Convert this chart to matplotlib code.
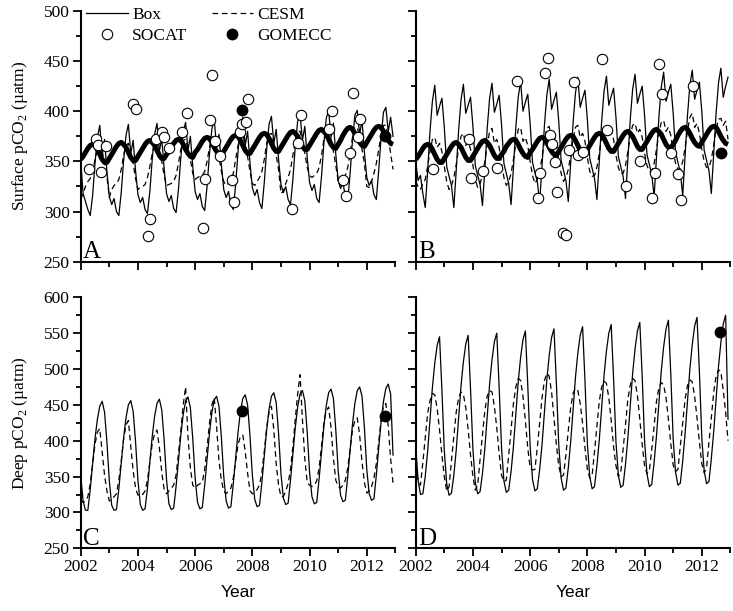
import numpy as np
import matplotlib
matplotlib.use("Agg")
import matplotlib.pyplot as plt
from matplotlib.ticker import MultipleLocator

plt.rcParams['font.family'] = ['Liberation Serif', 'DejaVu Serif']
plt.rcParams['mathtext.fontset'] = 'custom'
plt.rcParams['mathtext.rm'] = 'Liberation Serif'

# ---------------- data (monthly, Jan 2002 - Dec 2012) ----------------
years = list(range(2002, 2013))

# Panel A: surface, site A
surf_box_A = [
    [351, 318, 310, 302, 296, 316, 348, 374, 386, 356, 372, 340],
    [315, 307, 313, 300, 296, 319, 351, 376, 387, 358, 371, 341],
    [317, 309, 314, 302, 298, 320, 352, 377, 388, 360, 373, 343],
    [318, 310, 316, 303, 299, 322, 354, 379, 389, 361, 375, 345],
    [320, 312, 318, 305, 301, 325, 357, 382, 392, 364, 377, 347],
    [322, 314, 320, 307, 302, 327, 360, 385, 394, 366, 380, 349],
    [324, 316, 322, 309, 303, 329, 362, 387, 395, 368, 382, 352],
    [327, 319, 325, 312, 307, 332, 365, 390, 397, 371, 385, 354],
    [329, 321, 327, 313, 309, 335, 368, 393, 401, 374, 388, 357],
    [331, 323, 329, 315, 310, 338, 371, 396, 401, 377, 391, 359],
    [334, 326, 331, 317, 312, 341, 374, 399, 404, 380, 394, 375],
]
surf_cesm_A = [
    [312, 318, 325, 330, 333, 340, 352, 362, 367, 360, 350, 335],
    [314, 322, 326, 328, 332, 342, 356, 366, 368, 358, 348, 333],
    [322, 324, 325, 327, 334, 345, 358, 368, 370, 360, 350, 336],
    [326, 327, 328, 330, 336, 348, 362, 371, 372, 363, 352, 338],
    [332, 334, 335, 336, 340, 350, 364, 374, 375, 365, 354, 340],
    [330, 326, 328, 332, 338, 352, 366, 376, 377, 366, 355, 340],
    [328, 326, 330, 334, 340, 352, 368, 377, 378, 368, 356, 342],
    [318, 320, 328, 334, 342, 356, 370, 380, 380, 370, 358, 344],
    [336, 334, 336, 338, 344, 356, 372, 382, 382, 372, 360, 346],
    [330, 326, 330, 336, 344, 358, 374, 384, 384, 374, 362, 348],
    [325, 324, 330, 338, 348, 362, 376, 386, 386, 374, 358, 342],
]
# Atmospheric-equilibrium curve (thick line, same in A and B)
surf_atm = [
    [352, 355, 359, 363, 366, 367, 366, 362, 357, 352, 349, 349],
    [353, 357, 361, 365, 368, 369, 367, 364, 359, 354, 351, 351],
    [355, 359, 363, 367, 370, 371, 369, 366, 361, 356, 353, 353],
    [357, 360, 365, 368, 371, 372, 371, 367, 362, 358, 355, 354],
    [359, 362, 366, 370, 373, 374, 373, 369, 364, 360, 357, 356],
    [360, 364, 368, 372, 375, 376, 375, 371, 366, 361, 358, 358],
    [362, 366, 370, 374, 377, 378, 377, 373, 368, 363, 360, 360],
    [364, 368, 372, 376, 379, 380, 378, 375, 370, 365, 362, 362],
    [366, 370, 374, 378, 381, 382, 380, 377, 372, 367, 364, 363],
    [367, 371, 376, 380, 383, 384, 382, 378, 373, 369, 366, 365],
    [369, 373, 377, 381, 384, 385, 384, 380, 375, 371, 368, 367],
]
# Panel B: surface, site B
surf_box_B = [
    [350, 331, 336, 318, 304, 340, 380, 410, 426, 396, 405, 413],
    [384, 345, 335, 326, 304, 341, 381, 411, 427, 398, 406, 414],
    [385, 346, 336, 327, 306, 342, 383, 413, 428, 399, 407, 416],
    [387, 348, 338, 328, 307, 344, 384, 414, 430, 400, 409, 417],
    [388, 349, 339, 330, 309, 346, 386, 416, 432, 402, 411, 419],
    [390, 351, 341, 331, 310, 348, 388, 418, 434, 404, 413, 421],
    [392, 353, 343, 333, 312, 350, 390, 420, 435, 406, 415, 423],
    [394, 355, 345, 335, 313, 352, 392, 422, 437, 408, 417, 425],
    [396, 357, 347, 337, 315, 354, 394, 424, 439, 410, 419, 427],
    [398, 359, 349, 339, 316, 356, 396, 426, 441, 412, 421, 429],
    [400, 361, 351, 341, 318, 358, 398, 428, 443, 414, 425, 434],
]
surf_cesm_B = [
    [330, 325, 322, 328, 332, 345, 360, 372, 374, 364, 368, 360],
    [345, 330, 322, 326, 334, 347, 363, 375, 378, 366, 370, 362],
    [346, 332, 324, 328, 336, 350, 366, 380, 383, 368, 372, 364],
    [348, 334, 326, 330, 338, 352, 368, 382, 384, 370, 374, 366],
    [350, 336, 328, 332, 340, 354, 370, 383, 385, 372, 376, 368],
    [352, 338, 330, 334, 342, 356, 372, 384, 386, 374, 378, 370],
    [354, 340, 335, 336, 344, 358, 374, 384, 385, 376, 380, 372],
    [356, 344, 338, 338, 346, 360, 376, 386, 388, 378, 382, 374],
    [358, 346, 340, 340, 348, 362, 378, 389, 391, 380, 384, 376],
    [360, 348, 342, 342, 350, 364, 380, 394, 398, 384, 388, 378],
    [362, 350, 344, 344, 352, 366, 382, 392, 393, 386, 390, 372],
]
# Panel C: deep, site A
deep_box_C = [
    [352, 316, 303, 303, 332, 368, 403, 430, 448, 455, 440, 398],
    [344, 310, 303, 304, 333, 369, 404, 432, 450, 456, 441, 399],
    [345, 311, 303, 305, 334, 370, 406, 434, 452, 458, 443, 401],
    [346, 312, 304, 306, 336, 372, 408, 437, 455, 461, 446, 403],
    [348, 314, 305, 307, 338, 374, 410, 439, 457, 462, 448, 405],
    [350, 316, 306, 308, 340, 376, 412, 441, 459, 464, 450, 407],
    [352, 318, 308, 310, 342, 379, 415, 444, 462, 467, 453, 410],
    [354, 320, 311, 313, 345, 382, 418, 447, 465, 470, 456, 412],
    [356, 322, 312, 314, 347, 384, 420, 449, 467, 472, 459, 415],
    [358, 324, 315, 317, 350, 387, 423, 452, 470, 475, 462, 418],
    [360, 326, 317, 319, 352, 390, 426, 455, 473, 479, 465, 380],
]
deep_cesm_C = [
    [318, 314, 316, 322, 340, 368, 395, 412, 417, 385, 352, 330],
    [316, 318, 322, 326, 345, 372, 402, 422, 428, 392, 358, 334],
    [324, 326, 325, 330, 345, 370, 396, 410, 415, 390, 356, 332],
    [326, 330, 334, 338, 352, 382, 414, 450, 475, 405, 362, 338],
    [334, 338, 340, 342, 360, 390, 424, 450, 460, 420, 372, 345],
    [330, 326, 330, 334, 348, 372, 395, 406, 408, 385, 355, 330],
    [326, 328, 332, 338, 356, 385, 418, 440, 448, 415, 368, 338],
    [322, 322, 330, 340, 360, 392, 430, 465, 492, 430, 375, 342],
    [338, 336, 338, 344, 362, 392, 425, 442, 447, 418, 375, 345],
    [336, 334, 338, 345, 362, 388, 415, 428, 432, 408, 370, 342],
    [327, 330, 336, 348, 368, 398, 430, 448, 452, 420, 375, 341],
]
# Panel D: deep, site B
deep_box_D = [
    [392, 345, 325, 326, 350, 385, 430, 474, 508, 533, 545, 470],
    [386, 340, 324, 327, 352, 387, 432, 476, 510, 535, 547, 472],
    [388, 342, 326, 329, 354, 389, 435, 479, 513, 538, 550, 475],
    [390, 344, 328, 331, 357, 392, 438, 482, 516, 541, 553, 478],
    [392, 346, 330, 333, 360, 395, 441, 485, 519, 544, 556, 481],
    [394, 348, 331, 334, 362, 398, 444, 488, 522, 547, 559, 484],
    [396, 350, 333, 336, 365, 401, 447, 491, 525, 550, 562, 487],
    [398, 352, 335, 338, 367, 404, 450, 494, 528, 553, 565, 490],
    [400, 354, 336, 339, 370, 407, 453, 497, 531, 556, 568, 493],
    [402, 356, 338, 341, 372, 410, 456, 500, 534, 560, 572, 496],
    [404, 358, 340, 343, 375, 413, 459, 503, 537, 563, 575, 430],
]
deep_cesm_D = [
    [366, 345, 338, 370, 404, 438, 456, 466, 464, 445, 415, 380],
    [350, 330, 336, 372, 406, 440, 460, 468, 465, 446, 416, 380],
    [350, 331, 338, 374, 408, 442, 462, 470, 468, 448, 418, 382],
    [352, 343, 345, 380, 415, 452, 475, 487, 484, 462, 428, 390],
    [362, 359, 360, 390, 425, 460, 484, 494, 490, 468, 432, 395],
    [365, 350, 352, 380, 414, 446, 466, 473, 470, 452, 424, 390],
    [360, 348, 352, 385, 420, 455, 475, 483, 480, 460, 428, 392],
    [365, 350, 355, 388, 422, 458, 478, 487, 484, 463, 430, 395],
    [365, 354, 358, 388, 420, 455, 474, 481, 478, 460, 430, 396],
    [366, 357, 360, 392, 425, 458, 477, 485, 482, 462, 432, 398],
    [368, 355, 362, 398, 432, 468, 490, 499, 496, 470, 440, 400],
]

# SOCAT observations (decimal year, pCO2)
socat_A_t = [2002.29, 2002.52, 2002.59, 2002.70, 2002.87, 2003.84, 2003.93, 2004.42,
             2004.34, 2004.62, 2004.85, 2004.92, 2005.10, 2005.53, 2005.71, 2006.29,
             2006.36, 2006.53, 2006.60, 2006.70, 2006.87, 2007.28, 2007.35, 2007.58,
             2007.65, 2007.77, 2007.86, 2009.38, 2009.60, 2009.70, 2010.69, 2010.78,
             2011.18, 2011.27, 2011.43, 2011.51, 2011.77, 2011.71]
socat_A_v = [342, 372, 366, 339, 365, 407, 402, 293, 276, 372, 379, 374, 363, 379, 398, 284,
             332, 391, 436, 370, 355, 331, 310, 379, 387, 389, 412, 303, 368, 396, 382, 400,
             331, 316, 358, 418, 392, 374]
socat_B_t = [2002.62, 2003.86, 2003.93, 2004.36, 2004.85, 2005.53, 2006.27, 2006.35,
             2006.52, 2006.62, 2006.70, 2006.78, 2006.87, 2006.93, 2007.16, 2007.26,
             2007.36, 2007.53, 2007.69, 2007.86, 2008.52, 2008.69, 2009.34, 2009.84,
             2010.25, 2010.37, 2010.52, 2010.60, 2010.93, 2011.18, 2011.27, 2011.69]
socat_B_v = [342, 372, 333, 340, 343, 430, 314, 338, 438, 453, 376, 367, 349, 320, 279, 277,
             361, 429, 356, 359, 452, 381, 325, 350, 314, 338, 447, 417, 358, 337, 312, 425]

# GOMECC cruises
gomecc_A_t = [2007.63, 2012.64]
gomecc_A_v = [401, 375]
gomecc_B_t = [2012.67]
gomecc_B_v = [358]
gomecc_C_t = [2007.63, 2012.64]
gomecc_C_v = [442, 435]
gomecc_D_t = [2012.64]
gomecc_D_v = [551]

# ---------------- plotting ----------------
t = np.array([y + m / 12.0 for y in years for m in range(12)])

def flat(a):
    return np.array(a, dtype=float).ravel()

fig = plt.figure(figsize=(7.33, 6.11), dpi=100)
W, H = 733.0, 611.0
x0A, x0B, wpx = 80.7, 415.7, 314.7
axA = fig.add_axes([x0A / W, 1 - 261.7 / H, wpx / W, 250.7 / H])
axB = fig.add_axes([x0B / W, 1 - 261.7 / H, wpx / W, 250.7 / H])
axC = fig.add_axes([x0A / W, 1 - 548.3 / H, wpx / W, 251.0 / H])
axD = fig.add_axes([x0B / W, 1 - 548.3 / H, wpx / W, 251.0 / H])

dash = (0, (4.5, 3))
lw_thin = 0.9

def style(ax, ylim, ylabels, xlabels):
    ax.set_xlim(2002, 2013)
    ax.set_ylim(*ylim)
    for s in ['top', 'right']:
        ax.spines[s].set_visible(False)
    for s in ['left', 'bottom']:
        ax.spines[s].set_linewidth(1.5)
    ax.xaxis.set_major_locator(MultipleLocator(2))
    ax.xaxis.set_minor_locator(MultipleLocator(1))
    ax.yaxis.set_major_locator(MultipleLocator(50))
    ax.yaxis.set_minor_locator(MultipleLocator(25))
    ax.tick_params(which='major', direction='out', length=6, width=1.3,
                   labelsize=12.5, pad=2)
    ax.tick_params(which='minor', direction='out', length=3.5, width=1.3)
    ax.tick_params(labelleft=ylabels, labelbottom=xlabels)

def letter(ax, s):
    ax.text(0.008, 0.014, s, transform=ax.transAxes, fontsize=18,
            ha='left', va='baseline')

# Panel A
axA.plot(t, flat(surf_box_A), color='black', lw=lw_thin, label='Box')
axA.plot(t, flat(surf_cesm_A), color='black', lw=lw_thin, linestyle=dash, label='CESM')
axA.plot(t, flat(surf_atm), color='black', lw=3.6, solid_capstyle='butt')
axA.plot(socat_A_t, socat_A_v, 'o', ms=7.5, mfc='white', mec='black', mew=0.8,
         linestyle='none', label='SOCAT')
axA.plot(gomecc_A_t, gomecc_A_v, 'o', ms=7.5, mfc='black', mec='black',
         linestyle='none', label='GOMECC')
style(axA, (250, 500), True, False)
letter(axA, 'A')
h, l = axA.get_legend_handles_labels()
order = [0, 2, 1, 3]
axA.legend([h[i] for i in order], [l[i] for i in order], ncol=2, frameon=False,
           loc='upper left', bbox_to_anchor=(-0.005, 1.045), fontsize=12.5,
           handlelength=2.4, handletextpad=0.25, columnspacing=1.4,
           labelspacing=0.3, borderaxespad=0.0)
axA.set_ylabel('Surface pCO$_\\mathregular{2}$ (\u00b5atm)', fontsize=12.5)
axA.yaxis.set_label_coords(-0.16, 0.5)

# Panel B
axB.plot(t, flat(surf_box_B), color='black', lw=lw_thin)
axB.plot(t, flat(surf_cesm_B), color='black', lw=lw_thin, linestyle=dash)
axB.plot(t, flat(surf_atm), color='black', lw=3.6, solid_capstyle='butt')
axB.plot(socat_B_t, socat_B_v, 'o', ms=7.5, mfc='white', mec='black', mew=0.8,
         linestyle='none')
axB.plot(gomecc_B_t, gomecc_B_v, 'o', ms=7.5, mfc='black', mec='black', linestyle='none')
style(axB, (250, 500), False, False)
letter(axB, 'B')

# Panel C
axC.plot(t, flat(deep_box_C), color='black', lw=lw_thin)
axC.plot(t, flat(deep_cesm_C), color='black', lw=lw_thin, linestyle=dash)
axC.plot(gomecc_C_t, gomecc_C_v, 'o', ms=7.5, mfc='black', mec='black', linestyle='none')
style(axC, (250, 600), True, True)
letter(axC, 'C')
axC.set_ylabel('Deep pCO$_\\mathregular{2}$ (\u00b5atm)', fontsize=12.5)
axC.yaxis.set_label_coords(-0.16, 0.5)
axC.set_xlabel('Year', fontsize=12.5, family=['Liberation Sans', 'DejaVu Sans'], labelpad=7)

# Panel D
axD.plot(t, flat(deep_box_D), color='black', lw=lw_thin)
axD.plot(t, flat(deep_cesm_D), color='black', lw=lw_thin, linestyle=dash)
axD.plot(gomecc_D_t, gomecc_D_v, 'o', ms=7.5, mfc='black', mec='black', linestyle='none')
style(axD, (250, 600), False, True)
letter(axD, 'D')
axD.set_xlabel('Year', fontsize=12.5, family=['Liberation Sans', 'DejaVu Sans'], labelpad=7)

fig.savefig('out.png', dpi=100)
